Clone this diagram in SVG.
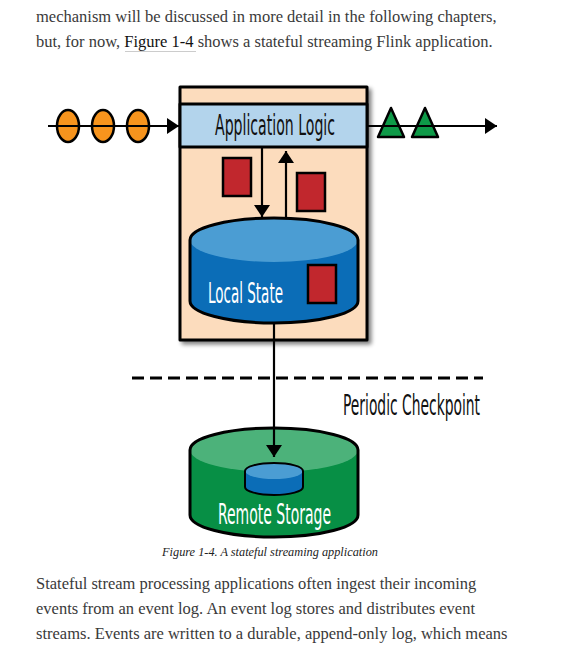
<svg xmlns="http://www.w3.org/2000/svg" width="567" height="654" viewBox="0 0 567 654">
<style>
.body{font-family:"Liberation Serif","Times New Roman",serif;font-size:16.5px;fill:#3a3a3a}
.lbl{font-family:"DejaVu Sans Condensed","DejaVu Sans","Liberation Sans",sans-serif;font-stretch:condensed;font-size:28px}
.ol{stroke:#000;stroke-width:3;stroke-linejoin:round}
.ln{stroke:#000;stroke-width:2.2;fill:none}
.red{fill:#c1272d;stroke:#000;stroke-width:2.5}
.orange{fill:#f7941d;stroke:#000;stroke-width:2.5}
.green{fill:#0e9a48;stroke:#000;stroke-width:2.5;stroke-linejoin:round}
</style>
<defs>
<marker id="ah" viewBox="0 0 12 16" refX="12" refY="8" markerWidth="12" markerHeight="16" markerUnits="userSpaceOnUse" orient="auto">
<path d="M0,0 L12,8 L0,16 Z" fill="#000"/>
</marker>
<filter id="sh" x="-10%" y="-10%" width="130%" height="130%">
<feGaussianBlur in="SourceAlpha" stdDeviation="2"/>
<feOffset dx="3" dy="3" result="b"/>
<feComponentTransfer><feFuncA type="linear" slope="0.5"/></feComponentTransfer>
<feMerge><feMergeNode/><feMergeNode in="SourceGraphic"/></feMerge>
</filter>
</defs>
<rect width="567" height="654" fill="#fff"/>

<g id="text-top" class="body">
<text x="36" y="22">mechanism will be discussed in more detail in the following chapters,</text>
<text x="36" y="47">but, for now, <tspan fill="#111">Figure 1-4</tspan> shows a stateful streaming Flink application.</text>
<line x1="125" y1="51.5" x2="196" y2="51.5" stroke="#ccc" stroke-width="1"/>
</g>

<g id="app-box">
<rect x="180" y="87" width="187" height="253" fill="#fcdcbd" class="ol" filter="url(#sh)"/>
</g>

<g id="application-logic">
<rect x="180" y="104" width="187" height="43" fill="#b3d4ec" class="ol"/>
<text x="275" y="135" class="lbl" fill="#111" text-anchor="middle" textLength="120" lengthAdjust="spacingAndGlyphs">Application Logic</text>
</g>

<g id="input-events">
<ellipse cx="68" cy="126" rx="11" ry="16" class="orange"/>
<ellipse cx="103" cy="126" rx="11" ry="16" class="orange"/>
<ellipse cx="138" cy="126" rx="11" ry="16" class="orange"/>
</g>

<g id="output-events">
<path d="M378,137 L391,108 L404,137 Z" class="green"/>
<path d="M412,137 L425,108 L438,137 Z" class="green"/>
</g>

<g id="state-items">
<rect x="223" y="158" width="28" height="38" class="red"/>
<rect x="297" y="173" width="28" height="38" class="red"/>
</g>

<g id="local-state">
<path d="M190,240 L190,301 A84,22 0 0 0 358,301 L358,240 Z" fill="#0b6db7"/>
<ellipse cx="274" cy="240" rx="84" ry="22" fill="#4b9dd3"/>
<path d="M190,240 A84,22 0 0 1 358,240 L358,301 A84,22 0 0 1 190,301 Z" fill="none" class="ol"/>
<rect x="308" y="265" width="28" height="38" class="red"/>
<text x="245.5" y="303" class="lbl" fill="#fff" text-anchor="middle" textLength="75" lengthAdjust="spacingAndGlyphs">Local State</text>
</g>

<g id="remote-storage">
<path d="M190,450 L190,515 A84,22 0 0 0 358,515 L358,450 Z" fill="#078f45"/>
<ellipse cx="274" cy="450" rx="84" ry="22" fill="#4cb27a"/>
<path d="M190,450 A84,22 0 0 1 358,450 L358,515 A84,22 0 0 1 190,515 Z" fill="none" class="ol"/>
<path d="M245,471 L245,487 A29,8 0 0 0 303,487 L303,471 Z" fill="#0b6db7"/>
<ellipse cx="274" cy="471" rx="29" ry="8" fill="#4b9dd3"/>
<path d="M245,471 A29,8 0 0 1 303,471 L303,487 A29,8 0 0 1 245,487 Z" fill="none" stroke="#000" stroke-width="2"/>
<text x="274.5" y="524" class="lbl" fill="#fff" text-anchor="middle" textLength="113" lengthAdjust="spacingAndGlyphs">Remote Storage</text>
</g>

<g id="checkpoint">
<line x1="132" y1="378" x2="483" y2="378" stroke="#000" stroke-width="3" stroke-dasharray="12 6"/>
<text transform="translate(343,415) scale(0.5,1)" x="0" y="0" class="lbl" fill="#111" textLength="274" lengthAdjust="spacingAndGlyphs">Periodic Checkpoint</text>
</g>

<g id="connectors">
<line x1="48" y1="126" x2="179" y2="126" class="ln" marker-end="url(#ah)"/>
<line x1="367" y1="126" x2="497" y2="126" class="ln" marker-end="url(#ah)"/>
<line x1="262" y1="148" x2="262" y2="217" class="ln" marker-end="url(#ah)"/>
<line x1="286" y1="218" x2="286" y2="151" class="ln" marker-end="url(#ah)"/>
<line x1="274" y1="323" x2="274" y2="457" class="ln" marker-end="url(#ah)"/>
</g>

<g id="caption">
<text x="270" y="556" text-anchor="middle" font-family="Liberation Serif,serif" font-style="italic" font-size="12.3" fill="#222">Figure 1-4. A stateful streaming application</text>
</g>

<g id="text-bottom" class="body">
<text x="36" y="589">Stateful stream processing applications often ingest their incoming</text>
<text x="36" y="614">events from an event log. An event log stores and distributes event</text>
<text x="36" y="639">streams. Events are written to a durable, append-only log, which means</text>
</g>
</svg>
